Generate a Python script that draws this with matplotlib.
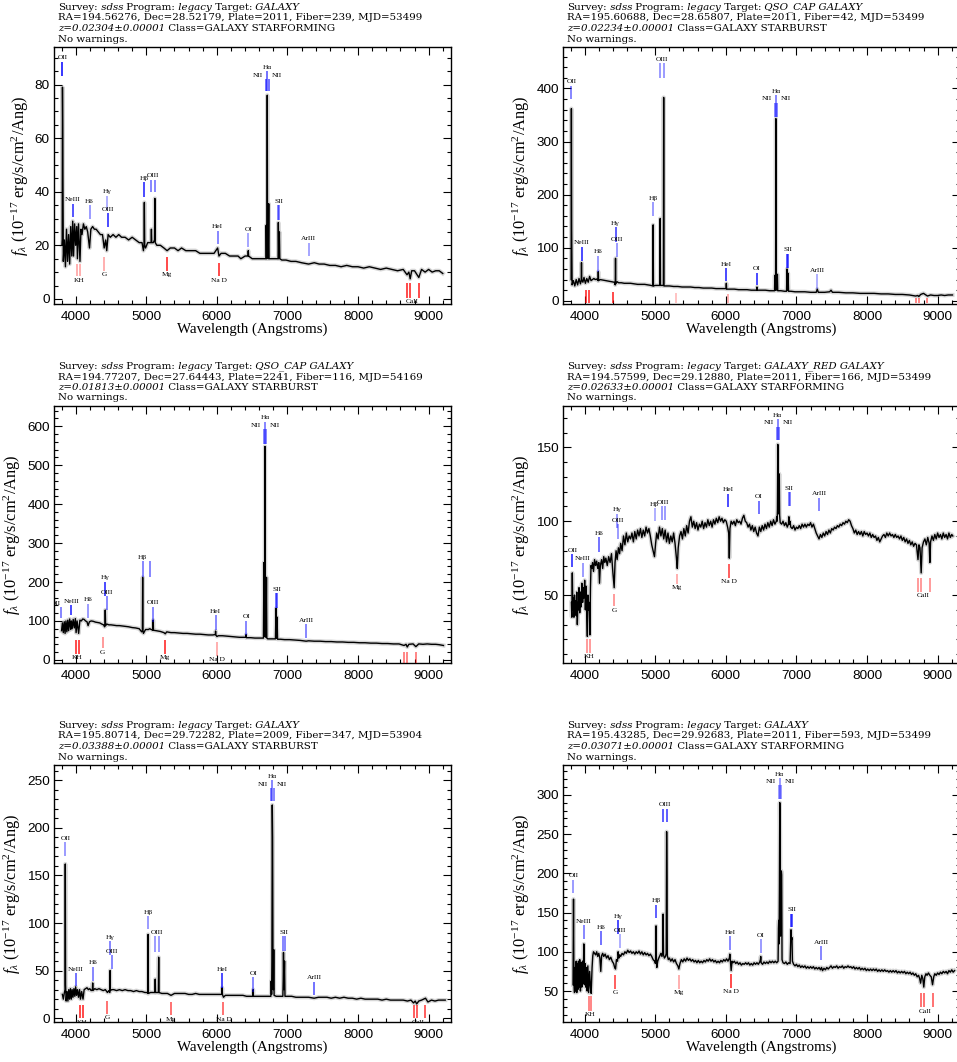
import numpy as np
import matplotlib.pyplot as plt
from matplotlib.ticker import MultipleLocator
from matplotlib.text import Annotation

plt.rcParams['font.family'] = ['Liberation Sans', 'DejaVu Sans']
plt.rcParams['mathtext.fontset'] = 'custom'
plt.rcParams['mathtext.rm'] = 'Liberation Serif'
plt.rcParams['mathtext.it'] = 'Liberation Serif:italic'
SERIF = ['Liberation Serif', 'DejaVu Serif']
HEAD = ['DejaVu Serif']

# ---- header info per panel
targets = ['GALAXY', 'QSO_CAP GALAXY', 'QSO_CAP GALAXY', 'GALAXY_RED GALAXY', 'GALAXY', 'GALAXY']
ras = ['194.56276', '195.60688', '194.77207', '194.57599', '195.80714', '195.43285']
decs = ['28.52179', '28.65807', '27.64443', '29.12880', '29.72282', '29.92683']
plates = [2011, 2011, 2241, 2011, 2009, 2011]
fibers = [239, 42, 116, 166, 347, 593]
mjds = [53499, 53499, 54169, 53499, 53904, 53499]
redshifts = [0.02304, 0.02234, 0.01813, 0.02633, 0.03388, 0.03071]
classes = ['GALAXY STARFORMING', 'GALAXY STARBURST', 'GALAXY STARBURST',
           'GALAXY STARFORMING', 'GALAXY STARBURST', 'GALAXY STARFORMING']

# ---- spectra (wavelength, flux)
spec1 = [(3805, 20), (3809, 22), (3813, 79), (3817, 64), (3825, 14), (3840, 22), (3855, 12), (3870, 26),
         (3885, 14), (3900, 24), (3915, 13), (3930, 27), (3945, 16), (3958, 29), (3970, 16), (3985, 28),
         (4000, 20), (4015, 27), (4025, 15), (4040, 28), (4061, 14), (4075, 26), (4090, 24), (4110, 28),
         (4130, 26), (4150, 27), (4170, 25), (4196, 19), (4215, 26), (4240, 27), (4265, 26), (4290, 26),
         (4320, 25), (4350, 24), (4380, 24), (4404, 19), (4425, 22), (4440, 18), (4460, 24), (4490, 23),
         (4530, 24), (4570, 23), (4610, 24), (4650, 23), (4700, 23), (4750, 22), (4800, 23), (4850, 22),
         (4900, 21), (4940, 21), (4960, 18), (4968, 20), (4973, 36), (4978, 20), (4990, 19), (5020, 21),
         (5050, 21), (5068, 21), (5073, 26), (5078, 21), (5100, 21), (5117, 22), (5122, 37.5), (5127, 21),
         (5150, 20), (5200, 20), (5250, 19), (5295, 18), (5340, 19), (5400, 19), (5450, 18), (5500, 19),
         (5560, 18), (5600, 18), (5650, 18), (5700, 18), (5760, 17), (5800, 17), (5860, 17), (5900, 17),
         (5960, 17), (6011, 19), (6030, 16), (6060, 17), (6120, 17), (6180, 16), (6240, 16), (6300, 16),
         (6340, 15), (6400, 16), (6440, 16), (6445, 18), (6450, 16), (6500, 15), (6560, 15), (6620, 15),
         (6680, 15), (6695, 15), (6699, 27.5), (6705, 15), (6710, 16), (6714, 76), (6718, 16), (6727, 15),
         (6735, 35.5), (6740, 15), (6760, 15), (6800, 15), (6860, 15), (6867, 15), (6871, 28.5), (6878, 15),
         (6886, 25), (6892, 15), (6920, 14.5), (6980, 14.5), (7050, 14), (7120, 14), (7200, 13.5), (7300, 13),
         (7380, 13.5), (7450, 13), (7520, 13), (7600, 12.5), (7680, 12.5), (7760, 12), (7840, 12.5), (7920, 12),
         (8000, 12), (8080, 11.5), (8160, 12), (8240, 11.5), (8320, 11), (8400, 11.5), (8480, 11), (8560, 10.5),
         (8640, 11), (8694, 9), (8720, 10), (8739, 7.5), (8760, 10.5), (8800, 10.5), (8861, 8), (8900, 11),
         (8950, 10), (9000, 11), (9050, 10), (9100, 10.5), (9150, 10.5), (9200, 9.5)]

spec2 = [(3808, 40), (3812, 362), (3816, 135), (3822, 30), (3840, 38), (3860, 28), (3880, 40), (3900, 30),
         (3920, 42), (3940, 32), (3951, 38), (3955, 72), (3959, 40), (3975, 35), (3990, 44), (4010, 33),
         (4030, 42), (4050, 35), (4070, 46), (4090, 38), (4110, 40), (4130, 42), (4150, 40), (4170, 41),
         (4189, 38), (4193, 55), (4197, 38), (4220, 40), (4260, 39), (4300, 38), (4340, 37), (4380, 36),
         (4420, 35), (4433, 30), (4437, 80), (4441, 32), (4460, 36), (4480, 34), (4520, 34), (4560, 33),
         (4600, 33), (4650, 33), (4700, 32), (4750, 31), (4800, 31), (4850, 31), (4900, 30), (4940, 29),
         (4966, 28), (4970, 143), (4974, 28), (5000, 29), (5040, 29), (5066, 29), (5070, 155), (5074, 29),
         (5100, 29), (5115, 29), (5119, 383), (5123, 28), (5150, 28), (5200, 28), (5260, 27), (5320, 27),
         (5380, 26), (5440, 26), (5500, 26), (5560, 25), (5620, 25), (5680, 24), (5740, 24), (5800, 24),
         (5860, 23), (5920, 23), (5980, 23), (6003, 23), (6007, 33), (6011, 22), (6060, 22), (6120, 22),
         (6180, 21), (6240, 21), (6300, 21), (6360, 20), (6420, 20), (6437, 20), (6441, 26), (6445, 20),
         (6500, 20), (6560, 20), (6620, 19), (6680, 19), (6690, 19), (6694, 48), (6700, 20), (6705, 22),
         (6709, 343), (6713, 30), (6722, 20), (6730, 50), (6735, 19), (6780, 19), (6830, 18), (6860, 18),
         (6866, 60), (6873, 20), (6881, 52), (6888, 18), (6920, 18), (6980, 17), (7050, 17), (7120, 17),
         (7200, 16), (7280, 16), (7295, 22), (7310, 16), (7400, 16), (7470, 17), (7490, 20), (7510, 16),
         (7600, 16), (7700, 15), (7800, 15), (7900, 14), (8000, 14), (8100, 14), (8200, 13), (8300, 13),
         (8400, 12), (8500, 12), (8600, 11), (8688, 9), (8720, 10), (8733, 8), (8760, 12), (8800, 14),
         (8856, 9), (8900, 11), (8950, 10), (9000, 10), (9050, 11), (9100, 10), (9150, 11), (9210, 11)]

spec3 = [(3800, 75), (3812, 95), (3825, 70), (3838, 98), (3850, 68), (3862, 100), (3875, 72), (3888, 102),
         (3900, 75), (3915, 105), (3930, 78), (3939, 100), (3950, 80), (3965, 104), (3980, 82), (3995, 106),
         (4006, 70), (4020, 100), (4042, 68), (4060, 102), (4080, 100), (4100, 105), (4120, 104), (4140, 100),
         (4160, 98), (4176, 88), (4195, 98), (4220, 100), (4250, 99), (4280, 97), (4310, 96), (4340, 95),
         (4370, 92), (4395, 90), (4410, 85), (4415, 90), (4419, 128), (4424, 88), (4442, 92), (4470, 90),
         (4500, 90), (4540, 89), (4580, 88), (4620, 88), (4660, 87), (4700, 86), (4750, 85), (4800, 83),
         (4850, 82), (4900, 80), (4935, 72), (4945, 75), (4949, 212), (4953, 75), (4960, 68), (4990, 78),
         (5030, 78), (5049, 80), (5070, 78), (5094, 76), (5098, 102), (5102, 76), (5140, 75), (5200, 73),
         (5250, 70), (5269, 67), (5290, 72), (5350, 70), (5400, 70), (5460, 69), (5520, 68), (5580, 68),
         (5640, 67), (5700, 66), (5760, 66), (5820, 65), (5880, 64), (5940, 64), (5978, 65), (5982, 74),
         (5986, 64), (6001, 60), (6020, 62), (6080, 62), (6140, 61), (6200, 60), (6260, 59), (6320, 58),
         (6380, 58), (6410, 58), (6414, 65), (6418, 57), (6480, 57), (6540, 56), (6600, 56), (6650, 56),
         (6660, 56), (6667, 250), (6672, 60), (6677, 62), (6682, 548), (6687, 60), (6697, 58), (6703, 212),
         (6708, 56), (6720, 54), (6780, 54), (6830, 54), (6838, 132), (6845, 56), (6853, 110), (6860, 53),
         (6900, 53), (6960, 52), (7030, 52), (7100, 51), (7180, 50), (7265, 48), (7300, 49), (7380, 48),
         (7460, 48), (7540, 47), (7620, 47), (7700, 46), (7780, 46), (7860, 45), (7940, 45), (8020, 44),
         (8100, 44), (8180, 43), (8260, 43), (8340, 42), (8420, 42), (8500, 41), (8580, 41), (8652, 37),
         (8680, 40), (8697, 33), (8720, 40), (8780, 41), (8819, 34), (8860, 41), (8920, 40), (8980, 41),
         (9040, 40), (9100, 40), (9150, 39), (9210, 37)]

spec4 = [(3812, 45), (3818, 35), (3825, 65), (3832, 40), (3840, 48), (3848, 35), (3856, 50), (3864, 38),
         (3872, 46), (3880, 36), (3888, 52), (3896, 30), (3904, 45), (3912, 40), (3920, 55), (3930, 38),
         (3940, 52), (3950, 42), (3960, 58), (3971, 45), (3980, 55), (3990, 48), (4000, 60), (4010, 40),
         (4020, 56), (4030, 35), (4038, 22), (4046, 50), (4056, 40), (4066, 45), (4074, 23), (4082, 55),
         (4090, 70), (4100, 68), (4112, 72), (4125, 66), (4140, 74), (4155, 70), (4170, 73), (4185, 68),
         (4200, 72), (4210, 58), (4222, 70), (4240, 74), (4255, 68), (4270, 76), (4285, 72), (4300, 75),
         (4320, 70), (4340, 76), (4360, 72), (4380, 78), (4400, 65), (4418, 55), (4430, 72), (4445, 80),
         (4460, 74), (4478, 82), (4495, 78), (4510, 85), (4530, 80), (4550, 90), (4570, 84), (4590, 92),
         (4610, 86), (4630, 90), (4650, 88), (4670, 92), (4690, 86), (4710, 93), (4730, 88), (4750, 94),
         (4770, 90), (4790, 95), (4810, 89), (4830, 94), (4850, 90), (4870, 96), (4890, 92), (4910, 95),
         (4930, 90), (4950, 84), (4970, 80), (4989, 76), (5005, 85), (5020, 92), (5040, 88), (5060, 96),
         (5080, 90), (5100, 95), (5120, 88), (5140, 94), (5160, 86), (5180, 92), (5200, 85), (5220, 90),
         (5240, 86), (5260, 92), (5280, 85), (5300, 75), (5312, 68), (5325, 82), (5345, 90), (5365, 93),
         (5385, 88), (5405, 95), (5425, 90), (5445, 97), (5465, 92), (5485, 100), (5505, 103), (5525, 96),
         (5545, 100), (5565, 95), (5585, 99), (5605, 94), (5625, 98), (5645, 96), (5665, 100), (5685, 95),
         (5705, 99), (5725, 96), (5745, 101), (5765, 97), (5785, 100), (5805, 96), (5825, 101), (5845, 98),
         (5865, 102), (5885, 99), (5905, 103), (5925, 100), (5945, 102), (5965, 99), (5985, 101), (6005, 100),
         (6025, 96), (6040, 92), (6049, 75), (6058, 95), (6075, 100), (6095, 98), (6115, 100), (6135, 97),
         (6155, 101), (6175, 99), (6195, 100), (6215, 98), (6235, 102), (6255, 104), (6275, 100), (6295, 99),
         (6315, 96), (6335, 98), (6355, 94), (6375, 97), (6395, 93), (6415, 96), (6435, 92), (6455, 90),
         (6475, 96), (6495, 93), (6515, 97), (6535, 94), (6555, 98), (6575, 95), (6595, 99), (6615, 96),
         (6635, 100), (6655, 97), (6675, 101), (6695, 98), (6715, 100), (6720, 103), (6726, 100), (6731, 108),
         (6736, 152), (6741, 118), (6747, 105), (6752, 110), (6757, 132), (6762, 104), (6770, 99), (6790, 98),
         (6810, 100), (6830, 97), (6850, 99), (6870, 96), (6886, 98), (6893, 103), (6900, 98), (6908, 100),
         (6920, 96), (6940, 95), (6960, 97), (6980, 94), (7000, 96), (7020, 95), (7040, 97), (7060, 95),
         (7080, 98), (7100, 96), (7120, 98), (7140, 96), (7160, 98), (7180, 97), (7200, 99), (7220, 96),
         (7240, 98), (7260, 95), (7280, 92), (7300, 90), (7320, 88), (7340, 91), (7360, 89), (7380, 92),
         (7400, 90), (7420, 93), (7440, 91), (7460, 94), (7480, 92), (7500, 95), (7520, 94), (7540, 96),
         (7560, 95), (7580, 97), (7600, 96), (7620, 98), (7640, 97), (7660, 99), (7680, 98), (7700, 100),
         (7720, 99), (7740, 101), (7760, 100), (7780, 97), (7800, 95), (7820, 92), (7840, 94), (7860, 91),
         (7880, 93), (7900, 91), (7920, 93), (7940, 90), (7960, 93), (7980, 91), (8000, 92), (8020, 90),
         (8040, 92), (8060, 89), (8080, 91), (8100, 89), (8120, 90), (8140, 87), (8160, 89), (8180, 86),
         (8200, 88), (8220, 90), (8240, 91), (8260, 89), (8280, 92), (8300, 90), (8320, 92), (8340, 90),
         (8360, 91), (8380, 89), (8400, 91), (8420, 89), (8440, 90), (8460, 88), (8480, 90), (8500, 87),
         (8520, 89), (8540, 86), (8560, 88), (8580, 85), (8600, 87), (8620, 84), (8640, 86), (8660, 83),
         (8680, 85), (8700, 84), (8722, 74), (8735, 84), (8750, 82), (8767, 65), (8780, 82), (8800, 86),
         (8820, 88), (8840, 84), (8860, 89), (8880, 85), (8890, 72), (8900, 86), (8920, 90), (8940, 87),
         (8960, 91), (8980, 88), (9000, 92), (9020, 89), (9040, 91), (9060, 88), (9080, 92), (9100, 89),
         (9120, 91), (9140, 88), (9160, 92), (9180, 89), (9200, 91), (9215, 90)]

spec5 = [(3812, 25), (3825, 20), (3838, 26), (3849, 30), (3853, 162), (3857, 35), (3865, 18), (3878, 28),
         (3890, 18), (3902, 30), (3914, 20), (3926, 31), (3938, 20), (3950, 30), (3962, 22), (3975, 31),
         (3988, 23), (4000, 33), (4012, 24), (4025, 30), (4040, 22), (4055, 30), (4068, 20), (4085, 28),
         (4104, 20), (4120, 30), (4140, 31), (4160, 32), (4180, 30), (4200, 31), (4220, 29), (4237, 30),
         (4241, 37), (4245, 29), (4270, 31), (4300, 30), (4330, 31), (4360, 30), (4390, 29), (4420, 30),
         (4450, 27), (4470, 29), (4483, 27), (4487, 50), (4491, 29), (4511, 30), (4540, 30), (4580, 29),
         (4620, 30), (4660, 29), (4700, 30), (4740, 29), (4780, 29), (4820, 28), (4860, 29), (4900, 28),
         (4940, 28), (4980, 27), (5010, 27), (5022, 26), (5026, 88), (5030, 26), (5060, 27), (5090, 27),
         (5123, 27), (5127, 41), (5131, 27), (5150, 27), (5172, 27), (5176, 64), (5180, 27), (5220, 26),
         (5260, 26), (5300, 26), (5351, 24), (5400, 26), (5450, 26), (5500, 26), (5550, 26), (5600, 25),
         (5650, 25), (5700, 26), (5750, 25), (5800, 25), (5850, 25), (5900, 25), (5950, 25), (6000, 25),
         (6050, 25), (6071, 25), (6075, 32), (6079, 25), (6094, 22), (6120, 24), (6170, 24), (6220, 24),
         (6270, 24), (6320, 24), (6370, 24), (6420, 23), (6470, 23), (6510, 23), (6514, 30), (6518, 23),
         (6560, 23), (6610, 23), (6660, 23), (6710, 23), (6750, 23), (6765, 23), (6770, 39), (6776, 25),
         (6780, 60), (6785, 224), (6790, 190), (6796, 40), (6801, 30), (6806, 72), (6811, 24), (6840, 23),
         (6900, 23), (6935, 23), (6940, 40), (6944, 69), (6950, 30), (6959, 60), (6965, 23), (7000, 23),
         (7060, 23), (7120, 22), (7180, 22), (7240, 22), (7300, 22), (7378, 21), (7440, 22), (7500, 22),
         (7560, 22), (7620, 21), (7680, 22), (7740, 21), (7800, 22), (7860, 21), (7920, 21), (7980, 20),
         (8040, 21), (8100, 20), (8160, 20), (8220, 20), (8280, 20), (8340, 19), (8400, 20), (8460, 19),
         (8520, 19), (8580, 19), (8640, 19), (8700, 18), (8750, 19), (8786, 16), (8810, 18), (8831, 15),
         (8860, 18), (8900, 19), (8956, 21), (8990, 17), (9040, 19), (9090, 18), (9140, 19), (9190, 19),
         (9235, 19)]

spec6 = [(3835, 58), (3842, 167), (3848, 60), (3856, 48), (3864, 80), (3872, 50), (3880, 88), (3888, 48),
         (3896, 85), (3904, 52), (3912, 88), (3920, 55), (3930, 90), (3940, 50), (3950, 86), (3960, 55),
         (3970, 88), (3980, 60), (3988, 110), (3996, 58), (4005, 85), (4015, 55), (4025, 80), (4035, 50),
         (4045, 82), (4056, 48), (4070, 75), (4082, 55), (4092, 47), (4105, 80), (4115, 95), (4125, 100),
         (4140, 98), (4155, 96), (4170, 100), (4185, 94), (4200, 98), (4215, 92), (4228, 75), (4240, 95),
         (4255, 98), (4270, 94), (4290, 97), (4310, 92), (4330, 95), (4350, 90), (4370, 93), (4390, 88),
         (4410, 85), (4425, 80), (4437, 78), (4450, 90), (4465, 88), (4474, 100), (4485, 92), (4497, 96),
         (4510, 94), (4530, 98), (4550, 96), (4570, 100), (4590, 98), (4610, 102), (4630, 99), (4650, 101),
         (4670, 98), (4690, 100), (4710, 97), (4730, 100), (4750, 98), (4770, 101), (4790, 97), (4810, 100),
         (4830, 96), (4850, 99), (4870, 96), (4890, 98), (4910, 95), (4930, 97), (4950, 94), (4970, 90),
         (4990, 88), (5003, 85), (5007, 100), (5011, 133), (5015, 95), (5022, 80), (5035, 88), (5050, 92),
         (5065, 95), (5080, 98), (5095, 94), (5105, 100), (5111, 148), (5117, 96), (5130, 92), (5145, 94),
         (5155, 98), (5161, 253), (5166, 190), (5171, 95), (5185, 90), (5200, 92), (5220, 88), (5240, 91),
         (5260, 87), (5280, 90), (5300, 85), (5320, 82), (5334, 78), (5350, 85), (5370, 90), (5390, 87),
         (5410, 91), (5430, 88), (5450, 92), (5470, 89), (5490, 91), (5510, 88), (5530, 90), (5550, 87),
         (5570, 89), (5590, 86), (5610, 89), (5630, 86), (5650, 88), (5670, 86), (5690, 89), (5710, 87),
         (5730, 90), (5750, 88), (5770, 91), (5790, 88), (5810, 90), (5830, 87), (5850, 89), (5870, 86),
         (5890, 88), (5910, 86), (5930, 89), (5950, 87), (5970, 90), (5990, 88), (6010, 91), (6030, 88),
         (6050, 92), (6056, 97), (6063, 90), (6075, 76), (6088, 88), (6100, 86), (6120, 88), (6140, 85),
         (6160, 87), (6180, 84), (6200, 86), (6220, 83), (6240, 85), (6260, 84), (6280, 86), (6300, 84),
         (6320, 86), (6340, 83), (6360, 85), (6380, 83), (6400, 86), (6420, 84), (6440, 86), (6460, 84),
         (6480, 87), (6490, 90), (6494, 94), (6500, 86), (6520, 84), (6540, 87), (6560, 85), (6580, 87),
         (6600, 85), (6620, 88), (6640, 86), (6660, 88), (6680, 86), (6700, 88), (6720, 86), (6740, 88),
         (6745, 130), (6749, 140), (6754, 110), (6759, 180), (6764, 290), (6769, 250), (6775, 120), (6780, 150),
         (6786, 203), (6791, 198), (6796, 90), (6810, 86), (6830, 85), (6850, 87), (6870, 84), (6890, 86),
         (6910, 85), (6917, 110), (6923, 128), (6930, 115), (6937, 118), (6943, 88), (6960, 84), (6980, 82),
         (7000, 84), (7020, 81), (7040, 83), (7060, 80), (7080, 82), (7100, 80), (7120, 82), (7140, 79),
         (7160, 81), (7180, 79), (7200, 81), (7220, 79), (7240, 81), (7260, 78), (7280, 80), (7300, 78),
         (7320, 80), (7340, 77), (7355, 80), (7370, 76), (7390, 79), (7410, 77), (7430, 80), (7450, 78),
         (7470, 80), (7490, 82), (7510, 79), (7530, 81), (7550, 80), (7570, 82), (7590, 79), (7610, 81),
         (7630, 80), (7650, 82), (7670, 79), (7690, 81), (7710, 80), (7730, 82), (7750, 80), (7770, 81),
         (7790, 79), (7810, 81), (7830, 78), (7850, 80), (7870, 78), (7890, 80), (7910, 77), (7930, 79),
         (7950, 77), (7970, 79), (7990, 76), (8010, 78), (8030, 76), (8050, 78), (8070, 76), (8090, 78),
         (8110, 76), (8130, 78), (8150, 75), (8170, 77), (8190, 75), (8210, 77), (8230, 75), (8250, 77),
         (8270, 75), (8290, 76), (8310, 74), (8330, 76), (8350, 74), (8370, 76), (8390, 74), (8410, 76),
         (8430, 73), (8450, 75), (8470, 73), (8490, 75), (8510, 73), (8530, 75), (8550, 72), (8570, 74),
         (8590, 72), (8610, 74), (8630, 71), (8650, 73), (8670, 70), (8690, 72), (8710, 68), (8730, 70),
         (8745, 66), (8759, 60), (8775, 70), (8790, 66), (8804, 55), (8818, 68), (8835, 72), (8850, 70),
         (8870, 73), (8890, 70), (8910, 68), (8928, 58), (8945, 68), (8960, 72), (8980, 70), (9000, 73),
         (9020, 71), (9040, 74), (9060, 72), (9080, 75), (9100, 73), (9120, 75), (9140, 72), (9160, 76),
         (9180, 74), (9200, 77), (9220, 74), (9240, 76)]

# ---- line markers: (label, rest wavelengths, y bottom, y top, strength)
emis1 = [('OII', [3727.1], 83, 88.5, 1.0), ('NeIII', [3868.8], 30.5, 35.5, 0.85), ('Hδ', [4101.7], 30, 35, 0.5),
         ('Hγ', [4340.5], 33, 38.5, 0.4), ('OIII', [4363.2], 27, 32, 0.9), ('Hβ', [4861.3], 38, 43.5, 0.9),
         ('OIII', [4958.9, 5006.8], 40, 44.5, 0.6), ('HeI', [5875.7], 20.5, 25.5, 0.6), ('OI', [6300.3], 19.5, 24.5, 0.45),
         ('SII', [6716.4, 6730.8], 29.5, 35, 0.6), ('ArIII', [7135.8], 16, 21, 0.45)]
emis2 = [('OII', [3727.1], 380, 405, 0.6), ('NeIII', [3868.8], 75, 102, 0.9), ('Hδ', [4101.7], 55, 85, 0.5),
         ('Hγ', [4340.5], 110, 139, 0.8), ('OIII', [4363.2], 82, 108, 0.5), ('Hβ', [4861.3], 160, 186, 0.5),
         ('OIII', [4958.9, 5006.8], 420, 447, 0.5), ('HeI', [5875.7], 38, 61, 0.9), ('OI', [6300.3], 30, 53, 0.9),
         ('SII', [6716.4, 6730.8], 62, 89, 0.8), ('ArIII', [7135.8], 22, 50, 0.4)]
emis3 = [('OII', [3727.1], 108, 135, 0.6), ('NeIII', [3868.8], 115, 141, 0.9), ('Hδ', [4101.7], 107, 144, 0.5),
         ('Hγ', [4340.5], 164, 201, 0.9), ('OIII', [4363.2], 128, 164, 0.6), ('Hβ', [4861.3], 214, 254, 0.6),
         ('', [4958.9], 214, 254, 0.6), ('OIII', [5006.8], 98, 137, 0.6), ('HeI', [5875.7], 77, 114, 0.6),
         ('OI', [6300.3], 64, 101, 0.6), ('SII', [6716.4, 6730.8], 134, 171, 0.7), ('ArIII', [7135.8], 55, 92, 0.6)]
emis4 = [('OII', [3727.1], 69, 77.5, 0.9), ('NeIII', [3868.8], 62, 72, 0.5), ('Hδ', [4101.7], 79, 89, 0.7),
         ('Hγ', [4340.5], 95.5, 105, 0.5), ('OIII', [4363.2], 88, 98, 0.5), ('Hβ', [4861.3], 100, 109, 0.4),
         ('OIII', [4958.9, 5006.8], 101, 110, 0.5), ('HeI', [5875.7], 109.5, 118.5, 0.9), ('OI', [6300.3], 105, 114, 0.7),
         ('SII', [6716.4, 6730.8], 110, 119.5, 0.6), ('ArIII', [7135.8], 107, 116, 0.6)]
emis5 = [('OII', [3727.1], 170, 185, 0.5), ('NeIII', [3868.8], 33.5, 47.5, 0.7), ('Hδ', [4101.7], 39, 54, 0.6),
         ('Hγ', [4340.5], 66.5, 81, 0.6), ('OIII', [4363.2], 51.5, 66.5, 0.6), ('Hβ', [4861.3], 93.5, 107, 0.5),
         ('OIII', [4958.9, 5006.8], 70, 86, 0.5), ('HeI', [5875.7], 32, 47, 0.9), ('OI', [6300.3], 27, 43, 0.6),
         ('SII', [6716.4, 6730.8], 71, 86, 0.6), ('ArIII', [7135.8], 24.5, 38.5, 0.7)]
emis6 = [('OII', [3727.1], 175, 192, 0.5), ('NeIII', [3868.8], 116, 134, 0.6), ('Hδ', [4101.7], 108.5, 126, 0.7),
         ('Hγ', [4340.5], 122.5, 140, 0.9), ('OIII', [4363.2], 104.5, 122.5, 0.4), ('Hβ', [4861.3], 143, 160, 0.8),
         ('OIII', [4958.9, 5006.8], 265, 282.5, 0.8), ('HeI', [5875.7], 102.5, 120, 0.6), ('OI', [6300.3], 98, 116, 0.5),
         ('SII', [6716.4, 6730.8], 131, 148.5, 0.8), ('ArIII', [7135.8], 90, 107, 0.6)]

# H-alpha + NII group: (y bottom, y top of NII, y top of Halpha, strength)
ha_groups = [(77.5, 82, 85, 0.7), (347, 373, 387, 0.6), (555, 592, 612, 0.6),
             (155, 164, 169, 0.6), (228, 241.5, 250, 0.6), (295, 312.5, 321, 0.5)]
ha_rest = [6548.1, 6562.8, 6583.4]

abs1 = [('KH', [3934.8, 3969.6], 8.5, 13, 0.4), ('G', [4304.4], 10.5, 15.5, 0.4), ('Mg', [5175.3], 10.5, 15.5, 0.9),
        ('Na D', [5894.0], 8.5, 13.5, 0.9), ('CaII', [8498.0, 8542.1, 8662.1], 0.5, 6, 0.9)]
abs2 = [('KH', [3934.8, 3969.6], -5, 20, 0.9), ('G', [4304.4], -5, 17, 0.9), ('Mg', [5175.3], -5, 15, 0.3),
        ('Na D', [5894.0], -5, 13, 0.4), ('CaII', [8498.0, 8542.1, 8662.1], -5, 6, 0.6)]
abs3 = [('KH', [3934.8, 3969.6], 15, 51, 0.9), ('G', [4304.4], 30, 60, 0.5), ('Mg', [5175.3], 15, 51, 0.9),
        ('Na D', [5894.0], 10, 47, 0.4), ('CaII', [8498.0, 8542.1, 8662.1], -8, 21, 0.6)]
abs4 = [('KH', [3934.8, 3969.6], 11, 20, 0.5), ('G', [4304.4], 42.5, 51, 0.5), ('Mg', [5175.3], 57.5, 64, 0.4),
        ('Na D', [5894.0], 61.5, 71, 0.8), ('CaII', [8498.0, 8542.1, 8662.1], 52, 61.5, 0.5)]
abs5 = [('KH', [3934.8, 3969.6], 0, 14, 0.9), ('G', [4304.4], 4.5, 18.5, 0.7), ('Mg', [5175.3], 3, 17.5, 0.7),
        ('Na D', [5894.0], 3, 17.5, 0.7), ('CaII', [8498.0, 8542.1, 8662.1], 0, 14, 0.8)]
abs6 = [('KH', [3934.8, 3969.6], 25, 43, 0.6), ('G', [4304.4], 52.5, 70, 0.8), ('Mg', [5175.3], 52.5, 70, 0.4),
        ('Na D', [5894.0], 54, 71.5, 0.9), ('CaII', [8498.0, 8542.1, 8662.1], 29, 47, 0.7)]

ylims = [(-1.9, 94), (-6, 478), (-8, 652), (4, 178), (-4, 266), (10.5, 338)]
ymajor = [20, 100, 100, 50, 50, 50]
yminor = [5, 20, 20, 10, 10, 10]

spectra = [spec1, spec2, spec3, spec4, spec5, spec6]
emis = [emis1, emis2, emis3, emis4, emis5, emis6]
absl = [abs1, abs2, abs3, abs4, abs5, abs6]

# labels nudged sideways (points) where they crowd the neighbour
label_nudge = {(2, 'OII'): -4}

# ---- layout (pixels)
W, H = 957, 1062
fig = plt.figure(figsize=(W / 100, H / 100), dpi=100)
corners = [(54, 47), (563, 47), (54, 406), (563, 406), (54, 765), (563, 765)]
AW, AH = 397, 257


def header(x, y, segs):
    prev = fig.text(x / W, 1 - y / H, segs[0][0], fontsize=7.4, family=HEAD,
                    style=segs[0][1], va='center', ha='left')
    for txt, st in segs[1:]:
        prev = fig.add_artist(Annotation(txt, xy=(1, 0.5), xycoords=prev, va='center', ha='left',
                                         fontsize=7.4, family=HEAD, style=st))


def tick_mark(ax, waves, y0, y1, color, a):
    for w in waves:
        ax.plot([w, w], [y0, y1], color=color, alpha=a, lw=1.1, solid_capstyle='butt', zorder=4)


def label(ax, txt, x, y, dx, dy, va):
    ax.annotate(txt, (x, y), xytext=(dx, dy), textcoords='offset points', ha='center', va=va,
                fontsize=5.3, family=SERIF, clip_on=True, annotation_clip=False, zorder=5)


for i in range(6):
    cx, cy = corners[i]
    ax = fig.add_axes([cx / W, 1 - (cy + AH) / H, AW / W, AH / H])
    z = redshifts[i]
    w, f = np.array(spectra[i], dtype=float).T
    ax.plot(w, f, color='0.84', lw=3.0, zorder=1)
    ax.plot(w, f, color='black', lw=1.0, zorder=2)

    for lab, rest, y0, y1, a in emis[i]:
        obs = [r * (1 + z) for r in rest]
        tick_mark(ax, obs, y0, y1, 'blue', a)
        if lab:
            label(ax, lab, np.mean(obs), y1, label_nudge.get((i, lab), 0), 1, 'bottom')
    y0, y1, ytop, a = ha_groups[i]
    obs = [r * (1 + z) for r in ha_rest]
    tick_mark(ax, [obs[0], obs[2]], y0, y1, 'blue', a)
    tick_mark(ax, [obs[1]], y0, ytop, 'blue', a)
    label(ax, 'Hα', obs[1], ytop, 0, 1, 'bottom')
    label(ax, 'NII', obs[0], y1, -6, 1, 'bottom')
    label(ax, 'NII', obs[2], y1, 6, 1, 'bottom')
    for lab, rest, y0, y1, a in absl[i]:
        obs = [r * (1 + z) for r in rest]
        tick_mark(ax, obs, y0, y1, 'red', a)
        label(ax, lab, np.mean(obs), y0, 0, -1, 'top')

    ax.set_xlim(3693, 9317)
    ax.set_ylim(*ylims[i])
    ax.xaxis.set_major_locator(MultipleLocator(1000))
    ax.xaxis.set_minor_locator(MultipleLocator(200))
    ax.yaxis.set_major_locator(MultipleLocator(ymajor[i]))
    ax.yaxis.set_minor_locator(MultipleLocator(yminor[i]))
    ax.tick_params(which='both', direction='in', top=True, right=True, width=0.8)
    ax.tick_params(which='major', length=5.5, labelsize=9.7)
    ax.tick_params(which='minor', length=2.8)
    ax.tick_params(axis='x', pad=5)
    ax.tick_params(axis='y', pad=3)
    for s in ax.spines.values():
        s.set_linewidth(1.0)
    ax.set_ylabel(r'$f_\lambda$ (10$^{-17}$ erg/s/cm$^2$/Ang)', family=SERIF, fontsize=11.8, labelpad=3)
    if i in (0, 1, 4, 5):
        ax.set_xlabel('Wavelength (Angstroms)', family=SERIF, fontsize=10.8, labelpad=0)

    hx = cx + 4
    hy = cy - 39.5
    header(hx, hy, [('Survey:', 'normal'), (' sdss', 'italic'), (' Program:', 'normal'),
                    (' legacy', 'italic'), (' Target:', 'normal'), (' ' + targets[i], 'italic')])
    header(hx, hy + 10.5, [('RA=%s, Dec=%s, Plate=%d, Fiber=%d, MJD=%d'
                            % (ras[i], decs[i], plates[i], fibers[i], mjds[i]), 'normal')])
    header(hx, hy + 21, [('z=%.5f±0.00001' % z, 'italic'), (' Class=' + classes[i], 'normal')])
    header(hx, hy + 31.5, [('No warnings.', 'normal')])

fig.savefig('out.png', dpi=100)
